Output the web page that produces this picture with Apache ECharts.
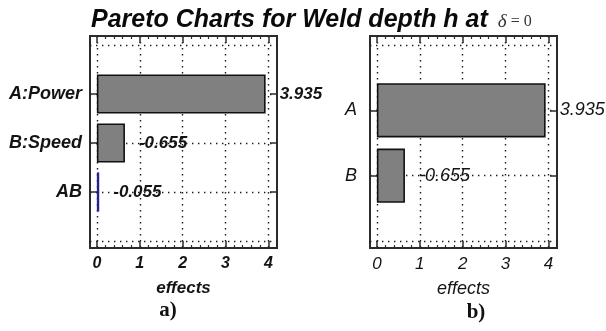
<!DOCTYPE html>
<html>
<head>
<meta charset="utf-8">
<script src="https://cdn.jsdelivr.net/npm/echarts@6/dist/echarts.min.js"></script>
<style>
  html, body { margin: 0; padding: 0; background: #fff; }
  #chart { width: 606px; height: 331px; }
</style>
</head>
<body>
<div id="chart"></div>
<script>
// Standardised effects on weld depth h at delta = 0
const factorsA = ['A:Power', 'B:Speed', 'AB'];
const effectsA = [3.935, -0.655, -0.055];
const factorsB = ['A', 'B'];
const effectsB = [3.935, -0.655];

// Effect axis ticks
const effectTicks = [0, 1, 2, 3, 4];
const effectMinorTicks = [0.2, 0.4, 0.6, 0.8, 1.2, 1.4, 1.6, 1.8, 2.2, 2.4, 2.6, 2.8, 3.2, 3.4, 3.6, 3.8];
const effectRange = [-0.16, 4.2];

const SANS = '"Liberation Sans", Arial, sans-serif';
const SERIF = '"Liberation Serif", "Times New Roman", serif';
const INK = '#141414';
const FRAME = '#2b2b2b';
const dotted = { color: '#1a1a1a', width: 1.4, type: [1.4, 4.6] };

// bars that are drawn in a distinct colour
const accentBars = { AB: '#23238a' };

const chart = echarts.init(document.getElementById('chart'), null, { renderer: 'canvas' });

const grid = [], xAxis = [], yAxis = [], series = [];

function addPanel(p) {
  const fg = grid.length;          // outer frame grid
  grid.push({ left: p.left, top: 36, width: 187, height: 212, show: true,
              borderColor: FRAME, borderWidth: 2, backgroundColor: 'transparent',
              outerBoundsMode: 'none', containLabel: false });
  const dg = grid.length;          // bar grid between the outermost grid lines
  grid.push({ left: p.left, top: 45, width: 187, height: 196, show: false,
              outerBoundsMode: 'none', containLabel: false });

  const txt = { fontFamily: SANS, fontStyle: 'italic', fontWeight: p.weight, color: INK };

  // effect axes on the frame: labels, dotted grid lines, major and minor ticks
  const base = { gridIndex: fg, type: 'value', min: effectRange[0], max: effectRange[1],
                 axisLine: { show: false, onZero: false } };
  xAxis.push(Object.assign({}, base, {
    position: 'bottom',
    axisTick: { show: true, inside: true, length: 7, customValues: effectTicks,
                lineStyle: { color: FRAME, width: 1.5 } },
    axisLabel: Object.assign({ show: true, customValues: effectTicks, margin: 8,
                               fontSize: p.tickSize }, txt),
    splitLine: { show: true, lineStyle: dotted },
    name: 'effects', nameLocation: 'middle', nameGap: 32,
    nameTextStyle: Object.assign({ fontSize: p.nameSize }, txt)
  }));
  xAxis.push(Object.assign({}, base, {
    position: 'top',
    axisTick: { show: true, inside: true, length: 7, customValues: effectTicks,
                lineStyle: { color: FRAME, width: 1.5 } },
    axisLabel: { show: false }, splitLine: { show: false }
  }));
  ['bottom', 'top'].forEach(pos => xAxis.push(Object.assign({}, base, {
    position: pos,
    axisTick: { show: true, inside: true, length: 3, customValues: effectMinorTicks,
                lineStyle: { color: FRAME, width: 1.2 } },
    axisLabel: { show: false }, splitLine: { show: false }
  })));
  yAxis.push({ gridIndex: fg, type: 'value', min: 0, max: 1, show: false });

  // bar grid
  const barX = xAxis.length;
  xAxis.push({ gridIndex: dg, type: 'value', min: effectRange[0], max: effectRange[1], show: false,
               axisLine: { onZero: false } });
  const cats = [''].concat(p.factors, ['']);
  const catAxis = {
    gridIndex: dg, type: 'category', data: cats, boundaryGap: false, inverse: true,
    axisLine: { show: false, onZero: false },
    axisTick: { show: true, inside: true, length: 7, interval: (i, v) => v !== '',
                lineStyle: { color: FRAME, width: 1.5 } }
  };
  const barY = yAxis.length;
  yAxis.push(Object.assign({}, catAxis, {
    position: 'left',
    axisLabel: Object.assign({ show: true, interval: 0, margin: p.catMargin,
                               fontSize: p.catSize }, txt),
    splitLine: { show: true, interval: 0, lineStyle: dotted }
  }));
  yAxis.push(Object.assign({}, catAxis, {
    position: 'right', axisLabel: { show: false }, splitLine: { show: false }
  }));

  series.push({
    type: 'bar', xAxisIndex: barX, yAxisIndex: barY, barWidth: p.barWidth,
    data: p.factors.map((f, i) => {
      const item = { value: [Math.abs(p.effects[i]), f] };
      if (accentBars[f]) item.itemStyle = { color: accentBars[f], borderColor: accentBars[f] };
      return item;
    }),
    itemStyle: { color: '#808080', borderColor: '#111', borderWidth: 1.6 },
    label: Object.assign({
      show: true, position: 'right', distance: 14, fontSize: p.valueSize,
      formatter: prm => p.effects[prm.dataIndex].toFixed(3)
    }, txt),
    emphasis: { disabled: true },
    animation: false
  });
}

addPanel({ left: 90, factors: factorsA, effects: effectsA, weight: 'bold', barWidth: '80%',
           tickSize: 16, nameSize: 17, catSize: 18, catMargin: 8, valueSize: 17 });
addPanel({ left: 370, factors: factorsB, effects: effectsB, weight: 'normal', barWidth: '83%',
           tickSize: 17, nameSize: 18, catSize: 18, catMargin: 13, valueSize: 18 });

chart.setOption({
  backgroundColor: '#ffffff',
  animation: false,
  title: {
    text: '{t|Pareto Charts for Weld depth h at}  {d|δ}{e| = 0}',
    left: 86, top: 3,
    textStyle: {
      rich: {
        t: { fontFamily: SANS, fontStyle: 'italic', fontWeight: 'bold', fontSize: 25, color: '#0a0a0a' },
        d: { fontFamily: SERIF, fontStyle: 'italic', fontWeight: 'normal', fontSize: 19, color: '#333',
             padding: [3, 0, 0, 0] },
        e: { fontFamily: SERIF, fontStyle: 'normal', fontWeight: 'normal', fontSize: 16, color: '#333',
             padding: [3, 0, 0, 0] }
      }
    }
  },
  graphic: [
    { type: 'text', x: 168, y: 311, style: { text: 'a)', font: 'bold 21px ' + SERIF, fill: '#111',
      textAlign: 'center', textVerticalAlign: 'middle' } },
    { type: 'text', x: 476, y: 313, style: { text: 'b)', font: 'bold 21px ' + SERIF, fill: '#111',
      textAlign: 'center', textVerticalAlign: 'middle' } }
  ],
  grid, xAxis, yAxis, series
});
</script>
</body>
</html>
